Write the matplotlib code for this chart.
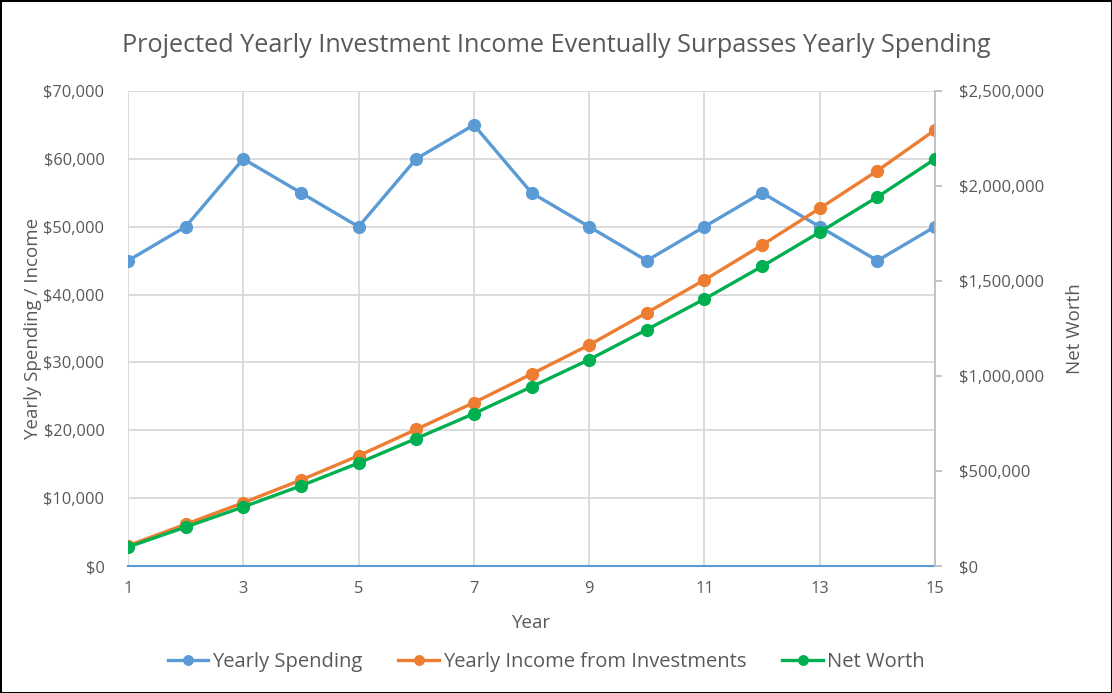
import matplotlib
matplotlib.use("Agg")
from matplotlib import pyplot as plt
from matplotlib.ticker import FuncFormatter, MultipleLocator
from matplotlib.patches import Rectangle

# data
years = list(range(1, 16))
spending = [45000, 50000, 60000, 55000, 50000, 60000, 65000, 55000,
            50000, 45000, 50000, 55000, 50000, 45000, 50000]
income = [3000, 6150, 9330, 12670, 16250, 20140, 24070, 28290,
          32570, 37330, 42150, 47300, 52700, 58250, 64250]
net_worth = [100000, 205000, 311000, 422000, 542000, 671000, 802000, 943000,
             1086000, 1244000, 1405000, 1577000, 1757000, 1942000, 2142000]

blue = "#5B9BD5"
orange = "#ED7D31"
green = "#00B050"
txt = "#595959"
grid = "#D9D9D9"

plt.rcParams["font.family"] = ["Open Sans", "DejaVu Sans"]

fig = plt.figure(figsize=(11.12, 6.93), dpi=100)
ax = fig.add_axes([128/1112, 1-566/693, (935-128)/1112, (566-91)/693])
ax2 = ax.twinx()

ax.plot(years, spending, color=blue, lw=2.4, marker="o", ms=8.5, label="Yearly Spending", zorder=3)
ax.plot(years, income, color=orange, lw=2.4, marker="o", ms=8.5, label="Yearly Income from Investments", zorder=3)
ax2.plot(years, net_worth, color=green, lw=2.4, marker="o", ms=8.5, label="Net Worth", zorder=3)

ax.set_xlim(1, 15)
ax.set_ylim(0, 70000)
ax2.set_ylim(0, 2500000)
ax.set_xticks(range(1, 16, 2))
ax.yaxis.set_major_locator(MultipleLocator(10000))
ax2.yaxis.set_major_locator(MultipleLocator(500000))

money = FuncFormatter(lambda v, p: "${:,.0f}".format(v))
ax.yaxis.set_major_formatter(money)
ax2.yaxis.set_major_formatter(money)

ax.grid(True, color=grid, lw=1.3)
ax.set_axisbelow(True)
for s in ["top", "left", "right"]:
    ax.spines[s].set_visible(False)
    ax2.spines[s].set_visible(False)
ax2.spines["bottom"].set_visible(False)
ax.spines["bottom"].set_color(blue)
ax.spines["bottom"].set_linewidth(1.5)
ax2.spines["right"].set_visible(True)
ax2.spines["right"].set_color("#BFBFBF")
ax2.spines["right"].set_linewidth(1.3)

ax.tick_params(axis="both", length=0, labelsize=11.8, colors=txt, pad=17)
ax.tick_params(axis="x", pad=11)
ax2.tick_params(axis="y", length=5, width=1.3, color="#BFBFBF", labelsize=12,
                labelcolor=txt, pad=12)

ax.set_xlabel("Year", fontsize=13.5, color=txt, labelpad=12)
ax.set_ylabel("Yearly Spending / Income", fontsize=13.5, color=txt)
ax.yaxis.set_label_coords(-0.106, 0.5)
ax2.set_ylabel("Net Worth", fontsize=13.5, color=txt, labelpad=16)

fig.suptitle("Projected Yearly Investment Income Eventually Surpasses Yearly Spending",
             fontsize=18.2, color=txt, y=0.952)

h1, l1 = ax.get_legend_handles_labels()
h2, l2 = ax2.get_legend_handles_labels()
fig.legend(h1 + h2, l1 + l2, loc="center", bbox_to_anchor=(546/1112, 1-662/693),
           ncol=3, frameon=False, fontsize=14.5, labelcolor=txt, markerscale=0.8,
           handlelength=2.0, handletextpad=0.2, columnspacing=1.8)

fig.patches.append(Rectangle((0, 0), 1, 1, transform=fig.transFigure,
                             fill=False, edgecolor="black", lw=2.2))

plt.savefig("out.png", dpi=100)
plt.close(fig)
